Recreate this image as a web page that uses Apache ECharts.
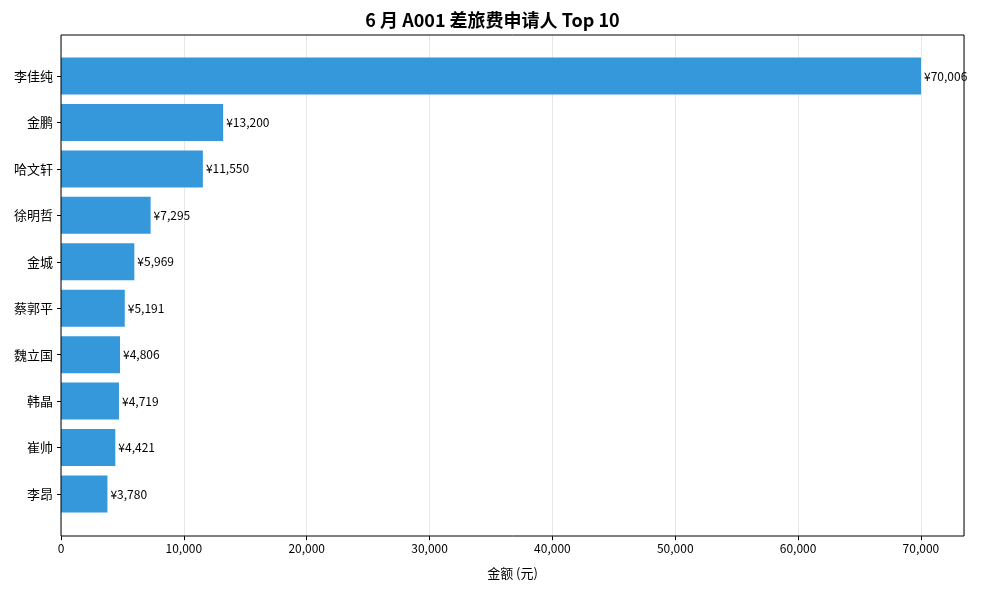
<!DOCTYPE html>
<html>
<head>
<meta charset="utf-8">
<script src="https://cdn.jsdelivr.net/npm/echarts@6/dist/echarts.min.js"></script>
<style>html,body{margin:0;padding:0;background:#fff}#c{width:985px;height:590px}</style>
</head>
<body>
<div id="c"></div>
<script>
var names = ['李佳纯', '金鹏', '哈文轩', '徐明哲', '金城', '蔡郭平', '魏立国', '韩晶', '崔帅', '李昂'];
var amounts = [70006, 13200, 11550, 7295, 5969, 5191, 4806, 4719, 4421, 3780];
var xMax = 73506;

var font = '"Noto Sans CJK SC", "Noto Sans", sans-serif';
var chart = echarts.init(document.getElementById('c'));
var option = {
    animation: false,
    textStyle: {fontFamily: font},
    title: {
        text: '6 月 A001 差旅费申请人 Top 10',
        left: 'center', top: 6,
        textStyle: {fontSize: 18, fontWeight: 'bold', color: '#000', fontFamily: font}
    },
    grid: [
        {left: 61, right: 21, top: 52.8, bottom: 72.8},
        {left: 61, right: 21, top: 35, bottom: 54}
    ],
    xAxis: [
        {
            type: 'value', gridIndex: 0, min: 0, max: xMax, interval: 10000, offset: 19,
            axisLine: {show: false},
            axisTick: {show: true, length: 4, lineStyle: {color: '#000'}},
            axisLabel: {color: '#000', fontSize: 12, margin: 6, showMaxLabel: false},
            splitLine: {show: false},
            name: '金额 (元)', nameLocation: 'middle', nameGap: 30,
            nameTextStyle: {color: '#000', fontSize: 13}
        },
        {
            type: 'value', gridIndex: 1, min: 0, max: xMax, interval: 10000,
            axisLine: {show: false}, axisTick: {show: false}, axisLabel: {show: false},
            splitLine: {show: true, lineStyle: {color: '#e6e6e6'}}
        }
    ],
    yAxis: [
        {
            type: 'category', gridIndex: 0, data: names, inverse: true,
            axisLine: {show: false},
            axisTick: {show: true, length: 4, alignWithLabel: true, lineStyle: {color: '#000'}},
            axisLabel: {color: '#000', fontSize: 13, margin: 8}
        },
        {type: 'value', gridIndex: 1, show: false, splitLine: {show: false}}
    ],
    series: [{
        type: 'bar', xAxisIndex: 0, yAxisIndex: 0,
        data: amounts, barWidth: 37,
        itemStyle: {color: '#3498db'},
        label: {
            show: true, position: 'right', distance: 3, color: '#000', fontSize: 12,
            formatter: function (p) { return '¥' + p.value.toLocaleString('en-US'); }
        },
        z: 3
    }],
    graphic: [{
        type: 'rect', shape: {x: 61, y: 35, width: 903, height: 501},
        style: {fill: 'none', stroke: '#000', lineWidth: 1}, z: 10
    }]
};
chart.setOption(option);
</script>
</body>
</html>
